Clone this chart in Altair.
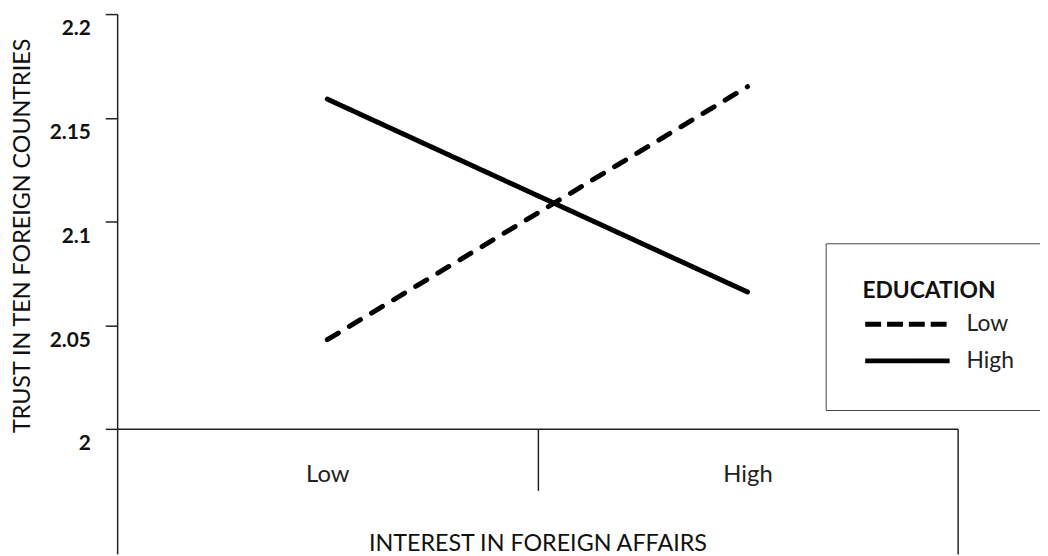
import altair as alt
import pandas as pd

interest = ["Low", "High"]
education = ["Low", "High"]
trust_low_edu = [2.043, 2.165]
trust_high_edu = [2.159, 2.066]
y_ticks = [2, 2.05, 2.1, 2.15, 2.2]

rows = []
for i, lvl in enumerate(interest):
    rows.append({"interest": lvl, "education": "Low", "trust": trust_low_edu[i]})
    rows.append({"interest": lvl, "education": "High", "trust": trust_high_edu[i]})
df = pd.DataFrame(rows)

FONT = "Lato"

x_enc = alt.X(
    "interest:N",
    sort=interest,
    bandPosition=0.5,
    scale=alt.Scale(type="band", domain=interest, paddingInner=0, paddingOuter=0),
    axis=alt.Axis(
        title="INTEREST IN FOREIGN AFFAIRS",
        titleFont=FONT, titleFontSize=23.5, titleFontWeight="normal", titleColor="#111",
        titleY=116, titleBaseline="middle",
        labelFont=FONT, labelFontSize=24, labelAngle=0, labelColor="#222",
        labelPadding={"condition": {"test": "datum.value == 'Low'", "value": -16}, "value": -80},
        labelBaseline="middle",
        tickBand="extent",
        tickSize={"condition": {"test": "datum.value == 'Low'", "value": 62}, "value": 126},
        tickColor="#222", tickWidth=1.5, domainColor="#222", domainWidth=1.5,
    ),
)

y_enc = alt.Y(
    "trust:Q",
    scale=alt.Scale(domain=[2, 2.2], nice=False, zero=False),
    axis=alt.Axis(
        values=y_ticks, format=".2~f",
        title="TRUST IN TEN FOREIGN COUNTRIES",
        titleFont=FONT, titleFontSize=23.5, titleFontWeight="normal", titleColor="#111",
        titleX=-95, titleY=223, titleAngle=270, titleBaseline="middle", titleAlign="center",
        labelFont=FONT, labelFontSize=21, labelFontWeight="bold", labelColor="#111",
        labelBaseline="top", labelOffset=4, labelPadding=15,
        tickSize=12, tickColor="#222", tickWidth=1.5, domainColor="#222", domainWidth=1.5,
        grid=False,
    ),
)

base = alt.Chart(df).encode(x=x_enc, y=y_enc)

lines = base.mark_line(color="black", strokeWidth=5, strokeCap="round").encode(
    strokeDash=alt.StrokeDash(
        "education:N",
        sort=education,
        scale=alt.Scale(domain=education, range=[[13, 13], [1, 0]]),
        legend=None,
    ),
)

key = base.transform_filter("datum.trust < 0").mark_line(color="black", strokeWidth=5).encode(
    strokeDash=alt.StrokeDash(
        "education:N",
        sort=education,
        scale=alt.Scale(domain=education, range=[[16, 6], [1, 0]]),
        legend=alt.Legend(
            title="EDUCATION",
            titleFont=FONT, titleFontSize=23, titleFontWeight="bold", titleColor="#111",
            titlePadding=8,
            labelFont=FONT, labelFontSize=23, labelColor="#222", labelOffset=78,
            symbolType="M-1,0H7", symbolSize=452, symbolStrokeWidth=5,
            symbolStrokeColor="black",
            orient="none", legendX=714, legendY=231,
            padding=37, strokeColor="#444", fillColor="white",
            rowPadding=11,
        ),
    ),
)

chart = alt.layer(lines, key).resolve_scale(strokeDash="independent").properties(
    width=847, height=418,
    autosize=alt.AutoSizeParams(type="none"),
    padding={"left": 110, "top": 4, "right": 83, "bottom": 126},
).configure_view(stroke=None)

chart.save("out.html", embed_options={"renderer": "svg", "actions": False})
